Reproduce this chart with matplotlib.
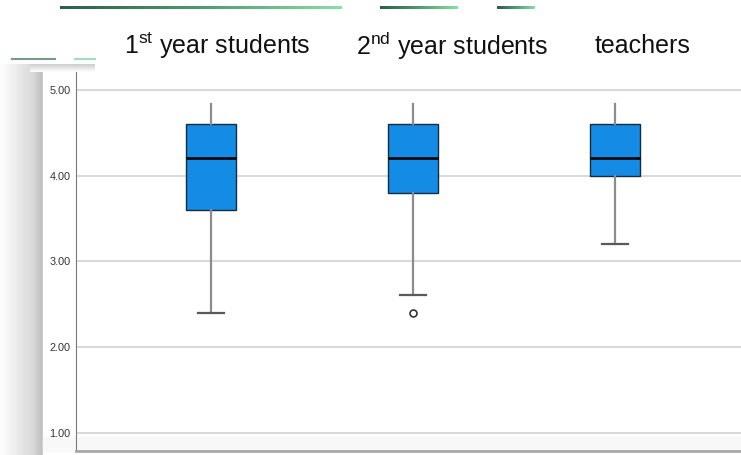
import numpy as np
import matplotlib
matplotlib.use('Agg')
import matplotlib.pyplot as plt
from matplotlib.colors import LinearSegmentedColormap

plt.rcParams['font.family'] = ['Liberation Sans', 'DejaVu Sans']
plt.rcParams['mathtext.fontset'] = 'custom'
plt.rcParams['mathtext.rm'] = 'Liberation Sans'

# score summary per group (SPSS boxplot)
groups = ['1$^{\\mathrm{st}}$ year students', '2$^{\\mathrm{nd}}$ year students', 'teachers']
whislo = [2.40, 2.60, 3.20]
q1 = [3.60, 3.80, 4.00]
med = [4.20, 4.20, 4.20]
q3 = [4.60, 4.60, 4.60]
whishi = [4.84, 4.84, 4.84]
fliers = [[], [2.40], []]
yticks = [1.00, 2.00, 3.00, 4.00, 5.00]

W, H = 741, 455
fig = plt.figure(figsize=(W / 100, H / 100), dpi=100)

# slide background decoration, drawn in pixel coords
bg = fig.add_axes([0, 0, 1, 1], zorder=0)
bg.set_xlim(0, W)
bg.set_ylim(H, 0)
bg.axis('off')

green = LinearSegmentedColormap.from_list('g', ['#2b5e48', '#4f9a72', '#86e0a6'])
grad = np.linspace(0, 1, 256).reshape(1, -1)
for x0, x1, y in [(60, 342, 8), (380, 458, 8), (497, 535, 8)]:
    bg.imshow(grad, cmap=green, extent=(x0, x1, y + 1.5, y - 1.5), aspect='auto')
bg.plot([12, 55], [59, 59], color='#7a9a88', lw=1.5)
bg.plot([75, 95], [59, 59], color='#9fe0b6', lw=1.5)

gray = LinearSegmentedColormap.from_list('gr', ['#ffffff', '#f3f3f3', '#e6e6e6', '#dadada', '#bdbdbd'])
bg.imshow(grad, cmap=gray, extent=(0, 43, H, 64), aspect='auto')
bg.imshow(grad[:, ::-1].T, cmap=LinearSegmentedColormap.from_list('t', ['#ffffff', '#cccccc']),
          extent=(30, 95, 72, 64), aspect='auto')
bg.add_patch(plt.Rectangle((43, 72), W - 43, H - 72, color='white', zorder=2))
bg.add_patch(plt.Rectangle((43, 437), W - 43, 14, color='#f8f8f8', zorder=2))

for x, label in zip([217, 452, 643], groups):
    bg.text(x, 46, label, fontsize=18, ha='center', va='center', color='#111111', zorder=3)

# chart
ax = fig.add_axes([76 / W, 4 / H, (750 - 76) / W, (451 - 72) / H], zorder=1)
ax.patch.set_alpha(0)

stats = []
for i in range(len(groups)):
    stats.append(dict(whislo=whislo[i], q1=q1[i], med=med[i], q3=q3[i],
                      whishi=whishi[i], fliers=fliers[i]))

bp = ax.bxp(stats, positions=[1, 2, 3], widths=0.25, patch_artist=True,
            boxprops=dict(facecolor='#148ce6', edgecolor='#1c2b3a', linewidth=1),
            medianprops=dict(color='#0a0a0a', linewidth=2),
            whiskerprops=dict(color='#8c8c8c', linewidth=1.6),
            capprops=dict(color='#5a5a5a', linewidth=1.6),
            flierprops=dict(marker='o', markersize=5, markerfacecolor='white',
                            markeredgecolor='#333333', markeredgewidth=1.2),
            capwidths=0.125, zorder=3)
# SPSS only draws the lower caps here
for cap in bp['caps'][1::2]:
    cap.set_visible(False)

ax.set_xlim(0.332, 3.668)
ax.set_ylim(0.784, 5.21)
ax.set_yticks(yticks)
ax.set_yticklabels([f'{v:.2f}' for v in yticks], fontsize=7.8, color='#333333')
ax.set_xticks([])
ax.tick_params(axis='y', length=0, pad=4)
ax.yaxis.grid(True, color='#d2d2d2', linewidth=1.2, zorder=0)
ax.set_axisbelow(True)

for side in ['top', 'right']:
    ax.spines[side].set_visible(False)
ax.spines['left'].set_color('#7a7a7a')
ax.spines['bottom'].set_color('#a8a8a8')
ax.spines['bottom'].set_linewidth(2)

fig.savefig('out.png', dpi=100)
